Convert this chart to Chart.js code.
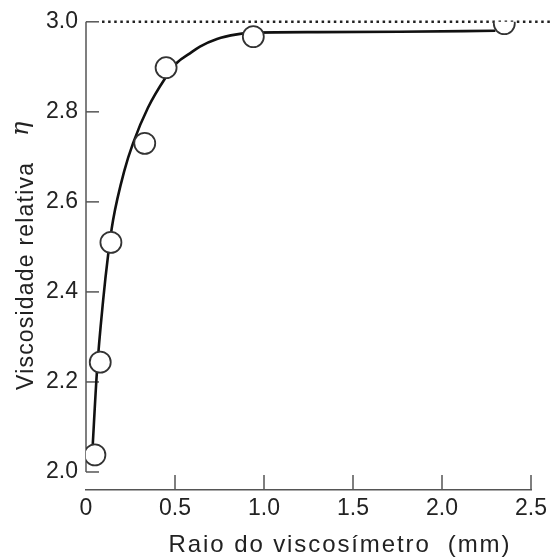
<!DOCTYPE html>
<html>
<head>
<meta charset="utf-8">
<script src="https://cdn.jsdelivr.net/npm/chart.js@4/dist/chart.umd.min.js"></script>
<style>
  html, body { margin: 0; padding: 0; background: #fff; }
  #wrap { width: 552px; height: 559px; }
</style>
</head>
<body>
<div id="wrap"><canvas id="viscChart"></canvas></div>
<script>
// measured points (circles)
const pointX = [0.05, 0.08, 0.14, 0.33, 0.45, 0.94, 2.35];
const pointY = [2.038, 2.244, 2.51, 2.73, 2.898, 2.967, 2.996];

// fitted curve
const curveX = [0.035, 0.062, 0.096, 0.124, 0.152, 0.216, 0.264, 0.348, 0.444, 0.511, 0.584, 0.64, 0.736, 0.848, 0.94, 1.3, 1.76, 2.3];
const curveY = [2.04, 2.226, 2.38, 2.481, 2.559, 2.67, 2.73, 2.809, 2.874, 2.909, 2.93, 2.945, 2.962, 2.972, 2.976, 2.977, 2.978, 2.98];

// dotted limit line at eta = 3.0
const limitX = [0.09, 2.62];
const limitY = [3.0, 3.0];

const xTicks = [0, 0.5, 1.0, 1.5, 2.0, 2.5];
const xTickLabels = ['0', '0.5', '1.0', '1.5', '2.0', '2.5'];
const yTicks = [2.0, 2.2, 2.4, 2.6, 2.8, 3.0];
const yTickLabels = ['2.0', '2.2', '2.4', '2.6', '2.8', '3.0'];

const xTitle = 'Raio do viscosímetro  (mm)';
const yTitle = 'Viscosidade relativa';
const yTitleSymbol = 'η';

const FONT = '"Liberation Sans", Arial, sans-serif';
const AXIS_COLOR = '#555';
const TEXT_COLOR = '#222';

function toXY(xs, ys) {
    return xs.map((x, i) => ({ x: x, y: ys[i] }));
}

// draws the axis lines, inward ticks and axis titles
const axesPlugin = {
    id: 'axesPlugin',
    beforeDatasetsDraw(chart) {
        const ctx = chart.ctx;
        const xs = chart.scales.x;
        const ys = chart.scales.y;
        const left = xs.getPixelForValue(0);
        ctx.save();
        ctx.strokeStyle = AXIS_COLOR;
        ctx.lineWidth = 1.5;
        // y axis stops at 2.0
        ctx.beginPath();
        ctx.moveTo(left, ys.getPixelForValue(3.0));
        ctx.lineTo(left, ys.getPixelForValue(2.0));
        ctx.stroke();
        yTicks.forEach(v => {
            const py = ys.getPixelForValue(v);
            ctx.beginPath();
            ctx.moveTo(left, py);
            ctx.lineTo(left + 13, py);
            ctx.stroke();
        });
        const bottom = chart.chartArea.bottom;
        xTicks.forEach(v => {
            if (v === 0) return;
            const px = xs.getPixelForValue(v);
            ctx.beginPath();
            ctx.moveTo(px, bottom);
            ctx.lineTo(px, bottom - 15);
            ctx.stroke();
        });
        ctx.restore();
    },
    afterDraw(chart) {
        const ctx = chart.ctx;
        ctx.save();
        ctx.fillStyle = TEXT_COLOR;
        ctx.font = '24px ' + FONT;
        ctx.letterSpacing = '1.9px';
        ctx.textAlign = 'center';
        ctx.textBaseline = 'alphabetic';
        ctx.fillText(xTitle, 340, 552);

        ctx.font = '23px ' + FONT;
        ctx.translate(33, 390);
        ctx.rotate(-Math.PI / 2);
        ctx.textAlign = 'left';
        ctx.letterSpacing = '1.2px';
        ctx.fillText(yTitle, 0, 0);
        ctx.letterSpacing = '0px';
        ctx.font = 'italic 24px "DejaVu Serif", serif';
        ctx.fillText(yTitleSymbol, 254, -5);
        ctx.restore();
    }
};

const ctx = document.getElementById('viscChart').getContext('2d');
const viscChart = new Chart(ctx, {
    type: 'scatter',
    data: {
        datasets: [
            {
                label: 'medidas',
                data: toXY(pointX, pointY),
                pointRadius: 10.5,
                pointHoverRadius: 10.5,
                pointBackgroundColor: '#fff',
                pointBorderColor: '#333',
                pointBorderWidth: 1.8,
                showLine: false
            },
            {
                label: 'curva',
                data: toXY(curveX, curveY),
                showLine: true,
                borderColor: '#111',
                borderWidth: 2.6,
                pointRadius: 0,
                cubicInterpolationMode: 'monotone'
            },
            {
                label: 'limite',
                data: toXY(limitX, limitY),
                showLine: true,
                borderColor: '#222',
                borderWidth: 2.5,
                borderDash: [2.5, 3.6],
                pointRadius: 0,
                clip: false
            }
        ]
    },
    options: {
        responsive: true,
        maintainAspectRatio: false,
        animation: false,
        layout: { padding: { left: 0, right: 21, top: 21, bottom: 0 } },
        plugins: {
            legend: { display: false },
            tooltip: { enabled: false }
        },
        scales: {
            x: {
                type: 'linear',
                min: 0,
                max: 2.5,
                afterBuildTicks: scale => { scale.ticks = xTicks.map(v => ({ value: v })); },
                afterFit: scale => { scale.height = 69; },
                grid: { display: false, drawTicks: false },
                border: { display: true, color: AXIS_COLOR, width: 1.5 },
                ticks: {
                    padding: 5,
                    color: TEXT_COLOR,
                    font: { family: FONT, size: 23 },
                    maxRotation: 0,
                    callback: (v) => xTickLabels[xTicks.indexOf(v)]
                }
            },
            y: {
                type: 'linear',
                min: 1.96,
                max: 3.0,
                afterBuildTicks: scale => { scale.ticks = yTicks.map(v => ({ value: v })); },
                afterFit: scale => { scale.width = 86; },
                grid: { display: false, drawTicks: false },
                border: { display: false },
                ticks: {
                    padding: 8,
                    color: TEXT_COLOR,
                    font: { family: FONT, size: 23 },
                    callback: (v) => yTickLabels[yTicks.indexOf(v)]
                }
            }
        }
    },
    plugins: [axesPlugin]
});
</script>
</body>
</html>
